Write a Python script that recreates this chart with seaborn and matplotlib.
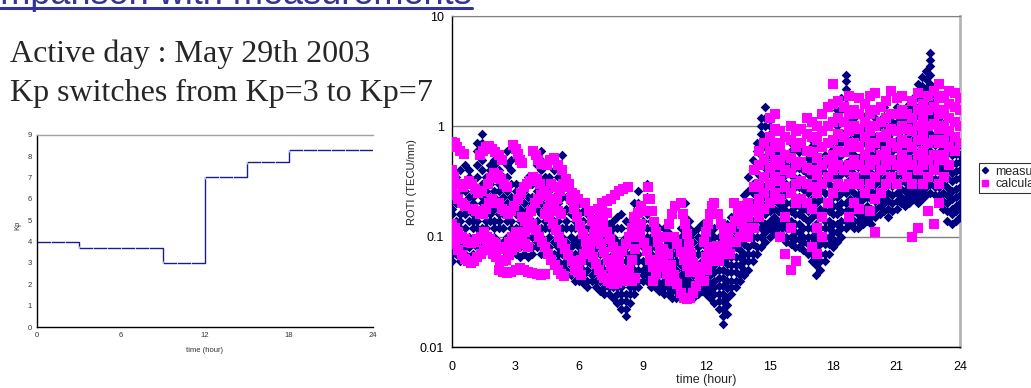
import matplotlib
matplotlib.use("Agg")
import matplotlib.pyplot as plt
import seaborn as sns
import pandas as pd
from matplotlib.lines import Line2D

# ---------------- data ----------------
kp_hours = list(range(25))
kp_values = [4.0, 4.0, 4.0, 3.7, 3.7, 3.7, 3.7, 3.7, 3.7, 3.0, 3.0, 3.0,
             7.0, 7.0, 7.0, 7.7, 7.7, 7.7, 8.3, 8.3, 8.3, 8.3, 8.3, 8.3, 8.3]

# measured ROTI: (time, values observed at that time)
meas_night = [
    (0.0, [.06, .07, .08, .1, .12, .16, .18, .23, .26, .3]),
    (0.2, [.07, .09, .1, .12, .14, .2, .23, .3, .35]),
    (0.4, [.06, .08, .09, .12, .14, .16, .2, .26, .4]),
    (0.6, [.07, .08, .1, .12, .16, .18, .2, .26, .3, .45]),
    (0.8, [.065, .08, .09, .1, .14, .18, .23, .3, .35, .4]),
    (1.0, [.07, .09, .12, .14, .16, .2, .23, .3]),
    (1.2, [.08, .09, .1, .12, .14, .18, .26, .35, .45, .6, .7]),
    (1.4, [.07, .08, .1, .12, .16, .2, .23, .3, .4, .5, .7, .85]),
    (1.6, [.08, .1, .12, .14, .18, .2, .26, .3, .35]),
    (1.8, [.09, .1, .14, .16, .2, .23, .3, .4, .45]),
    (2.0, [.08, .1, .12, .14, .18, .23, .26, .35, .45, .5]),
    (2.2, [.09, .12, .14, .16, .2, .26, .3, .4, .55]),
    (2.4, [.08, .09, .12, .16, .18, .23, .3, .35]),
    (2.6, [.07, .09, .1, .14, .16, .2, .26, .35, .45, .6]),
    (2.8, [.08, .1, .12, .14, .18, .23, .3, .4, .5]),
    (3.0, [.07, .08, .1, .12, .16, .2, .26, .3]),
    (3.2, [.065, .08, .09, .12, .14, .18, .23, .26]),
    (3.4, [.07, .09, .1, .12, .16, .2, .26, .3]),
    (3.6, [.065, .08, .1, .14, .16, .18, .23, .35]),
    (3.8, [.07, .08, .1, .12, .14, .2, .23, .3, .35]),
    (4.0, [.08, .09, .12, .14, .18, .2, .26, .35, .45]),
    (4.2, [.07, .08, .1, .12, .16, .2, .26, .3, .4, .5, .6]),
    (4.4, [.07, .09, .12, .14, .18, .23, .3, .35, .45]),
    (4.6, [.065, .08, .1, .12, .16, .2, .26, .35]),
    (4.8, [.06, .07, .09, .12, .14, .18, .23, .3, .4]),
    (5.0, [.06, .07, .08, .1, .14, .16, .2, .26, .35, .45]),
    (5.2, [.055, .07, .08, .1, .12, .16, .23, .3, .4, .55]),
    (5.4, [.05, .06, .07, .09, .12, .14, .18, .23, .3]),
    (5.6, [.045, .055, .07, .08, .1, .12, .16, .2, .26]),
    (5.8, [.04, .05, .06, .07, .09, .12, .14, .18, .23]),
]
meas_day = [
    (6.0, [.04, .045, .055, .07, .08, .1, .12, .16, .2]),
    (6.2, [.038, .045, .05, .06, .08, .09, .12, .14, .17]),
    (6.4, [.035, .04, .05, .06, .07, .09, .1, .12, .16]),
    (6.6, [.04, .045, .055, .07, .08, .1, .12, .14]),
    (6.8, [.035, .04, .05, .06, .07, .08, .1, .12, .15]),
    (7.0, [.032, .04, .045, .055, .07, .08, .1, .12, .14]),
    (7.2, [.03, .035, .04, .05, .06, .07, .09, .1, .12, .14]),
    (7.4, [.03, .035, .045, .05, .06, .08, .09, .11, .13]),
    (7.6, [.028, .035, .04, .045, .055, .07, .08, .1, .12, .14]),
    (7.8, [.025, .03, .035, .045, .05, .06, .08, .09, .12, .15]),
    (8.0, [.022, .026, .03, .035, .045, .05, .06, .07, .09, .12, .16]),
    (8.2, [.019, .022, .026, .03, .04, .045, .06, .07, .08, .1, .14]),
    (8.4, [.025, .03, .035, .04, .05, .06, .07, .09, .1, .12]),
    (8.6, [.03, .035, .04, .05, .06, .07, .08, .1, .12, .16, .2]),
    (8.8, [.035, .04, .05, .06, .07, .09, .1, .12, .16, .2, .26]),
    (9.0, [.04, .045, .05, .06, .08, .09, .12, .14, .18]),
    (9.2, [.04, .045, .055, .06, .07, .09, .1, .12, .16, .23, .3]),
    (9.4, [.035, .04, .05, .06, .07, .08, .1, .12, .14]),
    (9.6, [.035, .04, .045, .055, .06, .08, .09, .11, .13]),
    (9.8, [.032, .038, .045, .05, .06, .07, .08, .1, .12]),
    (10.0, [.03, .035, .04, .05, .06, .07, .08, .1, .12]),
    (10.2, [.03, .035, .04, .045, .055, .06, .07, .09, .11]),
    (10.4, [.028, .032, .038, .045, .05, .06, .07, .08, .1]),
    (10.6, [.028, .032, .036, .04, .05, .06, .07, .08, .1]),
    (10.8, [.03, .035, .04, .045, .055, .07, .08, .1, .12]),
    (11.0, [.032, .036, .042, .05, .06, .07, .09, .1, .12, .15, .2]),
    (11.2, [.03, .035, .04, .045, .055, .07, .08, .1, .12, .14]),
    (11.4, [.028, .032, .038, .045, .05, .06, .07, .09, .11]),
    (11.6, [.03, .035, .04, .05, .055, .07, .08, .1, .12]),
    (11.8, [.032, .038, .045, .05, .06, .07, .09, .1, .13]),
    (12.0, [.03, .035, .04, .05, .06, .07, .08, .1, .12]),
    (12.2, [.028, .032, .038, .045, .05, .06, .07, .09, .11]),
    (12.4, [.025, .03, .035, .04, .048, .055, .065, .08, .1, .12]),
    (12.6, [.022, .026, .03, .036, .042, .05, .06, .07, .085, .1]),
    (12.8, [.016, .019, .022, .026, .03, .036, .042, .05, .06, .07, .085, .1]),
    (13.0, [.02, .024, .028, .034, .04, .048, .056, .065, .08, .1, .13]),
    (13.2, [.03, .035, .04, .048, .055, .065, .075, .09, .1, .12, .15]),
    (13.4, [.035, .04, .048, .055, .065, .08, .09, .11, .13, .16]),
    (13.6, [.04, .045, .055, .065, .075, .09, .1, .12, .14, .18]),
    (13.8, [.045, .05, .06, .07, .085, .1, .12, .14, .17, .2, .24]),
]
meas_evening = [
    (14.0, [.05, .06, .07, .08, .1, .12, .14, .17, .2, .26, .35]),
    (14.2, [.06, .07, .085, .1, .12, .14, .17, .2, .25, .3, .4, .5]),
    (14.4, [.07, .08, .1, .12, .14, .17, .2, .25, .3, .38, .45, .6, .7]),
    (14.6, [.08, .1, .12, .14, .16, .2, .24, .3, .35, .45, .55, .7, .85, 1.0, 1.2]),
    (14.8, [.09, .11, .13, .16, .19, .23, .28, .35, .42, .5, .65, .8, 1.0, 1.2, 1.5]),
    (15.0, [.1, .12, .14, .17, .2, .25, .3, .38, .45, .55, .7, .85, 1.0]),
    (15.2, [.11, .13, .15, .18, .22, .27, .32, .4, .48, .6, .7]),
    (15.4, [.1, .12, .14, .17, .2, .25, .3, .36, .45, .55, .65]),
    (15.6, [.1, .12, .13, .16, .19, .23, .28, .34, .4, .5, .6]),
    (15.8, [.09, .1, .12, .14, .17, .2, .25, .3, .37, .45, .55]),
    (16.0, [.085, .1, .12, .14, .17, .2, .25, .3, .36, .44, .52, .6, .7]),
    (16.2, [.08, .095, .11, .13, .16, .19, .23, .28, .34, .42, .5]),
    (16.4, [.08, .095, .11, .13, .16, .19, .23, .28, .34, .42, .5, .58, .65]),
    (16.6, [.075, .09, .1, .12, .15, .18, .22, .27, .32, .4, .46]),
    (16.8, [.07, .085, .1, .12, .14, .17, .2, .25, .3, .37, .45, .52, .6]),
    (17.0, [.06, .07, .085, .1, .12, .15, .18, .22, .27, .33, .4, .48, .58, .67, .75]),
    (17.2, [.045, .055, .065, .08, .09, .11, .13, .16, .2, .25, .3, .37, .45, .55, .65]),
    (17.4, [.05, .06, .07, .085, .1, .12, .15, .18, .22, .27, .33, .4, .5]),
    (17.6, [.06, .07, .085, .1, .12, .14, .17, .21, .25, .3, .38, .45, .55]),
    (17.8, [.07, .085, .1, .12, .14, .17, .2, .25, .3, .37, .45]),
    (18.0, [.08, .095, .11, .13, .16, .19, .23, .28, .35, .42, .52, .62, .75]),
    (18.2, [.09, .11, .13, .16, .19, .23, .28, .34, .42, .52, .65, .8, 1.0, 1.2, 1.4]),
    (18.4, [.1, .12, .14, .17, .2, .25, .3, .37, .45, .55, .7, .85, 1.1, 1.4, 1.8]),
    (18.6, [.12, .14, .17, .2, .25, .3, .38, .47, .58, .72, .9, 1.1, 1.4, 1.8, 2.2, 2.6, 2.9]),
    (18.8, [.13, .15, .18, .22, .27, .33, .4, .5, .6, .75, .9, 1.1, 1.3]),
    (19.0, [.12, .14, .17, .21, .25, .3, .37, .45, .55, .68, .85, 1.0, 1.2]),
    (19.2, [.12, .14, .16, .2, .24, .29, .35, .43, .52, .65, .8]),
    (19.4, [.13, .15, .18, .22, .26, .32, .38, .46, .56, .7, .85, 1.0, 1.2]),
    (19.6, [.14, .16, .19, .23, .28, .34, .4, .5, .6, .75, .9, 1.1, 1.3]),
    (19.8, [.13, .15, .18, .22, .26, .32, .38, .46, .56, .7, .85]),
    (20.0, [.15, .18, .21, .25, .3, .36, .44, .54, .65, .8, 1.0, 1.2, 1.4]),
    (20.2, [.16, .19, .22, .27, .32, .38, .46, .56, .68, .82, 1.0]),
    (20.4, [.17, .2, .23, .28, .33, .4, .48, .58, .7, .85, 1.05, 1.25, 1.5]),
    (20.6, [.15, .18, .21, .25, .3, .36, .44, .54, .65, .8, .95]),
    (20.8, [.17, .2, .24, .29, .34, .41, .5, .6, .72, .88, 1.1]),
    (21.0, [.18, .21, .25, .3, .36, .43, .52, .62, .75, .9, 1.1, 1.3, 1.5]),
    (21.2, [.2, .23, .27, .32, .38, .46, .55, .66, .8, .95, 1.15]),
    (21.4, [.19, .22, .26, .31, .37, .44, .53, .64, .78, .92, 1.1]),
    (21.6, [.2, .24, .28, .33, .4, .48, .58, .7, .85, 1.0, 1.2, 1.4, 1.6]),
    (21.8, [.22, .26, .3, .36, .43, .52, .62, .75, .9, 1.1, 1.3, 1.55, 1.8]),
    (22.0, [.2, .24, .28, .33, .4, .48, .58, .7, .85, 1.0, 1.25, 1.5, 1.8, 2.1, 2.4]),
    (22.2, [.22, .26, .3, .36, .43, .52, .62, .75, .9, 1.1, 1.3, 1.6, 1.9, 2.3, 2.8]),
    (22.4, [.24, .28, .33, .4, .47, .56, .68, .82, 1.0, 1.2, 1.5, 1.8, 2.2, 2.7, 3.2]),
    (22.6, [.25, .3, .35, .42, .5, .6, .72, .87, 1.05, 1.3, 1.6, 1.9, 2.4, 2.9, 3.5, 4.0, 4.6]),
    (22.8, [.24, .28, .33, .4, .47, .56, .68, .82, 1.0, 1.2, 1.4, 1.7, 2.0]),
    (23.0, [.2, .24, .28, .33, .4, .48, .58, .7, .85, 1.0, 1.2]),
    (23.2, [.18, .21, .25, .3, .36, .43, .52, .62, .75, .9, 1.05]),
    (23.4, [.14, .17, .2, .24, .28, .34, .4, .48, .58, .7, .8]),
    (23.6, [.13, .16, .18, .22, .26, .32, .38, .46, .55, .65, .75]),
    (23.8, [.14, .17, .19, .23, .27, .33, .39, .47, .56, .63, .7]),
    (24.0, [.15, .18, .2, .24, .28, .34, .4, .48, .55]),
]

# calculated ROTI: tracks of (time, value)
calc_night = [
    (0.0, .72), (0.12, .7), (0.25, .65), (0.4, .6), (0.55, .56), (1.3, .55), (1.45, .6),
    (1.6, .65), (1.75, .66), (1.9, .62), (2.05, .58), (2.2, .55), (2.35, .5), (2.9, .68),
    (3.0, .62), (3.1, .56), (3.2, .5), (3.3, .47), (3.85, .6), (3.95, .55), (4.05, .5),
    (4.2, .46), (4.5, .45), (4.65, .5), (4.8, .52), (5.0, .45), (5.2, .4),
    (0.0, .4), (0.1, .35), (0.2, .3), (0.0, .25), (0.15, .24), (0.3, .22), (0.45, .2),
    (0.6, .19), (0.5, .28), (0.65, .3), (0.8, .32), (0.95, .3), (1.1, .27), (1.25, .25),
    (1.4, .26), (1.0, .18), (1.15, .17), (1.3, .16), (1.45, .16), (1.6, .18), (1.75, .2),
    (1.9, .22), (1.7, .3), (1.85, .34), (2.0, .38), (2.15, .36), (2.3, .33), (2.45, .3),
    (2.6, .28), (2.2, .2), (2.35, .18), (2.5, .17), (2.65, .16), (2.8, .17), (2.95, .19),
    (3.1, .22), (3.25, .25), (3.4, .28), (3.55, .3), (3.7, .32), (3.85, .35), (4.0, .33),
    (4.15, .3), (3.3, .15), (3.45, .14), (3.6, .15), (3.75, .17), (3.9, .2), (4.05, .22),
    (4.2, .24), (4.35, .26), (4.5, .24), (4.65, .22), (4.8, .2), (4.95, .22), (5.1, .26),
    (5.25, .3), (5.4, .33), (5.55, .3), (4.4, .16), (4.55, .18), (4.7, .3), (4.85, .28),
    (5.0, .17), (5.15, .16), (5.5, .28), (5.65, .25), (5.8, .24), (5.95, .22),
    (0.0, .1), (0.15, .085), (0.3, .075), (0.45, .068), (0.6, .063), (0.75, .06),
    (0.9, .058), (1.05, .06), (1.2, .065), (1.35, .07), (1.5, .075), (1.65, .08),
    (1.8, .075), (1.95, .07), (2.1, .065), (2.25, .062), (2.4, .06), (2.55, .062),
    (2.7, .068), (2.85, .075), (3.0, .08), (3.15, .085), (3.3, .09), (3.45, .085), (3.6, .08),
    (0.0, .13), (0.15, .12), (0.3, .11), (0.45, .1), (0.6, .095), (0.75, .09), (0.9, .088),
    (1.05, .09), (1.2, .095), (1.35, .1), (1.5, .11), (1.65, .1), (1.8, .095), (1.95, .09),
    (2.1, .085), (2.25, .08), (2.4, .078), (2.55, .08), (2.7, .09), (2.85, .1), (3.0, .11),
    (3.15, .105), (3.3, .1), (3.45, .11), (3.6, .12),
    (2.2, .05), (2.4, .048), (2.6, .047), (2.8, .048), (3.0, .05), (3.2, .052), (3.4, .05),
    (3.6, .048), (3.8, .047), (4.0, .046), (4.2, .045), (4.4, .046),
    (3.8, .13), (3.95, .115), (4.1, .1), (4.25, .09), (4.4, .08), (4.55, .07), (4.7, .062),
    (4.85, .055), (5.0, .05), (5.15, .046), (5.3, .044),
    (4.6, .15), (4.75, .13), (4.9, .115), (5.05, .1), (5.2, .088), (5.35, .078), (5.5, .068),
    (5.65, .06), (5.8, .053), (5.95, .048),
]
calc_day = [
    (6.1, .045), (5.6, .22), (5.75, .18), (5.9, .15), (6.05, .125), (6.2, .105), (6.35, .09),
    (6.5, .077), (6.65, .066), (6.8, .057), (6.95, .05), (7.1, .045),
    (5.8, .05), (5.95, .055), (6.1, .062), (6.25, .07), (6.4, .08), (6.55, .092), (6.7, .105),
    (6.85, .12), (7.0, .135), (7.15, .15), (7.3, .165),
    (6.3, .2), (6.45, .17), (6.6, .14), (6.75, .12), (6.9, .1), (7.05, .085), (7.2, .072),
    (7.35, .062), (7.5, .054), (7.65, .048), (7.8, .044),
    (7.0, .15), (7.15, .13), (7.3, .11), (7.45, .095), (7.6, .08), (7.75, .068), (7.9, .058),
    (8.05, .05), (8.2, .045), (8.35, .042),
    (7.2, .042), (7.35, .04), (7.5, .038), (7.65, .037), (7.8, .038), (8.5, .04), (8.65, .042),
    (6.9, .18), (7.1, .2), (7.3, .21), (7.5, .22), (7.7, .24), (7.9, .26), (8.1, .27), (8.3, .28),
    (7.6, .05), (7.75, .056), (7.9, .064), (8.05, .074), (8.2, .086), (8.35, .1), (8.5, .12),
    (8.65, .14), (8.8, .165), (8.95, .19),
    (8.2, .04), (8.35, .05), (8.5, .062), (8.65, .078), (8.8, .1), (8.95, .13), (9.1, .17), (9.25, .22),
    (8.6, .15), (8.75, .125), (8.9, .105), (9.05, .088), (9.2, .074), (9.35, .062), (9.5, .053),
    (9.65, .046),
    (9.25, .28), (9.35, .22), (9.45, .17), (9.55, .135), (9.65, .11), (9.75, .09), (9.85, .075),
    (9.95, .063), (10.05, .053), (10.15, .046), (10.3, .04),
    (9.5, .04), (9.65, .05), (9.8, .062), (9.95, .078), (10.1, .1), (10.25, .13), (10.4, .16), (10.55, .19),
    (10.2, .07), (10.35, .055), (10.5, .045), (10.65, .037), (10.8, .031), (10.95, .028),
    (11.1, .027), (11.25, .028), (11.4, .031), (11.55, .036), (11.7, .043), (11.85, .053),
    (12.0, .065), (12.15, .08),
    (10.5, .1), (10.65, .085), (10.8, .072), (10.95, .062), (11.1, .054), (11.25, .048),
    (10.8, .2), (10.9, .16), (11.0, .13), (11.1, .105), (11.2, .085), (11.3, .07), (11.4, .058), (11.5, .05),
    (11.9, .09), (12.0, .11), (12.1, .13), (12.2, .16), (12.3, .19),
    (11.9, .04), (12.05, .05), (12.2, .06), (12.35, .07), (12.5, .082),
    (12.4, .2), (12.55, .16), (12.7, .13), (12.85, .105), (13.0, .085), (13.15, .07),
    (12.6, .06), (12.75, .07), (12.9, .085), (13.05, .1), (13.2, .12), (13.35, .14), (13.5, .16), (13.65, .18),
    (13.4, .09), (13.6, .1), (13.8, .11), (14.0, .12), (13.7, .13), (13.9, .15), (14.1, .17),
    (13.3, .2), (13.5, .19),
]
calc_evening = [
    (14.0, [.1, .15, .2]), (14.25, [.12, .18, .28, .4]), (14.5, [.15, .22, .3, .45, .6]),
    (14.75, [.18, .25, .35, .5, .7]), (15.0, [.2, .3, .42, .6, .8, 1.2]),
    (15.25, [.25, .35, .5, .7, .95, 1.3]), (15.5, [.1, .22, .32, .45, .65, .9]),
    (15.75, [.07, .15, .28, .4, .55, .8]), (16.0, [.05, .12, .25, .38, .52, .75, 1.0]),
    (16.25, [.06, .2, .3, .45, .65, .9]), (16.5, [.22, .32, .48, .7, .95]),
    (16.75, [.2, .3, .42, .6, .85, 1.2]), (17.0, [.08, .18, .28, .4, .58, .8, 1.1]),
    (17.25, [.07, .12, .25, .36, .52, .75, 1.0]), (17.5, [.1, .15, .3, .45, .65, .9, 1.3]),
    (17.75, [.2, .35, .5, .7, 1.0, 1.5]), (18.0, [.25, .4, .55, .75, 1.1, 1.6, 2.4]),
    (18.25, [.3, .45, .6, .85, 1.2, 1.7]), (18.5, [.28, .4, .58, .8, 1.1, 1.5]),
    (18.75, [.15, .3, .45, .65, .9, 1.3, 1.9]), (19.0, [.2, .35, .5, .7, 1.0, 1.4]),
    (19.25, [.18, .3, .45, .65, .95, 1.3, 1.8]), (19.5, [.25, .4, .55, .8, 1.1, 1.6]),
    (19.75, [.17, .3, .45, .65, .9, 1.3, 1.9]), (20.0, [.11, .22, .35, .5, .7, 1.0, 1.4, 2.0]),
    (20.25, [.25, .4, .55, .8, 1.1, 1.5]), (20.5, [.3, .45, .6, .85, 1.2, 1.7]),
    (20.75, [.35, .5, .7, .95, 1.3, 2.1]), (21.0, [.3, .45, .65, .9, 1.3, 1.8]),
    (21.25, [.4, .55, .75, 1.0, 1.4, 1.9]), (21.5, [.35, .5, .7, .95, 1.3]),
    (21.75, [.1, .3, .45, .65, .9, 1.2, 1.7]), (22.0, [.12, .4, .55, .75, 1.0, 1.4, 2.0]),
    (22.25, [.3, .45, .6, .85, 1.2, 1.6]), (22.5, [.17, .35, .5, .7, 1.0, 1.4, 1.9]),
    (22.75, [.13, .4, .55, .75, 1.05, 1.5, 2.1]), (23.0, [.2, .3, .5, .7, .95, 1.3, 1.8, 2.4]),
    (23.25, [.35, .55, .75, 1.0, 1.4, 1.9]), (23.5, [.45, .65, .9, 1.2, 1.6, 2.1]),
    (23.75, [.6, .8, 1.1, 1.5, 2.0]), (24.0, [.7, 1.0, 1.4, 1.8]),
]

# --------------- tables ---------------
def expand(cols):
    return [(t, v) for t, vals in cols for v in vals]

meas = pd.DataFrame(expand(meas_night + meas_day + meas_evening), columns=["t", "roti"])
calc = pd.DataFrame(calc_night + calc_day + expand(calc_evening), columns=["t", "roti"])
kp = pd.DataFrame({"hour": kp_hours, "kp": kp_values})

NAVY = "#000080"
MAGENTA = "#ff00ff"
BLUE = "#333399"

sns.set_style("white")
plt.rcParams["font.family"] = ["Liberation Sans", "DejaVu Sans"]

W, H = 1031, 388
fig = plt.figure(figsize=(W / 100, H / 100), dpi=100)

def fx(px):
    return px / W

def fy(py):
    return 1 - py / H

# ---- slide title (clipped at top) and underline ----
fig.text(fx(-46), fy(4), "Comparison with measurements", fontsize=26, color=BLUE,
         ha="left", va="baseline")
fig.add_artist(Line2D([0, fx(472)], [fy(8), fy(8)], color=BLUE, lw=2.2,
                      transform=fig.transFigure))

# ---- descriptive text ----
fig.text(fx(10), fy(62), "Active day : May 29th 2003", fontsize=23,
         family=["Liberation Serif", "DejaVu Serif"], ha="left", va="baseline")
fig.text(fx(10), fy(101), "Kp switches from Kp=3 to Kp=7", fontsize=23,
         family=["Liberation Serif", "DejaVu Serif"], ha="left", va="baseline")

# ---- Kp chart ----
axL = fig.add_axes([fx(37), fy(327), fx(373) - fx(37), fy(134.7) - fy(327)])
sns.lineplot(data=kp, x="hour", y="kp", ax=axL, drawstyle="steps-post", color="#1c1c8c",
             lw=1.0, marker="|", markersize=2.5, markeredgewidth=0.5)
axL.set_xlim(0, 24)
axL.set_ylim(0, 9)
axL.set_xticks(range(0, 25, 6))
axL.set_yticks(range(0, 10))
axL.tick_params(axis="both", direction="out", length=2, width=0.6, labelsize=5.5,
                pad=1.5, colors="black")
axL.tick_params(axis="both", labelcolor="#333333")
for s in ("left", "bottom"):
    axL.spines[s].set_color("black")
    axL.spines[s].set_linewidth(1.0)
axL.spines["top"].set_color("#a0a0a0")
axL.spines["top"].set_linewidth(1.0)
axL.spines["right"].set_visible(False)
axL.set_xlabel("")
axL.set_ylabel("")
fig.text(fx(205), fy(350), "time (hour)", fontsize=5.5, ha="center", va="center", color="#333333")
fig.text(fx(18), fy(225), "Kp", fontsize=5.5, ha="center", va="center", rotation=90, color="#333333")

# ---- ROTI chart ----
axR = fig.add_axes([fx(452), fy(347), fx(960) - fx(452), fy(16) - fy(347)])
axR.set_yscale("log")
sns.scatterplot(data=meas, x="t", y="roti", ax=axR, marker="D", s=24, color=NAVY,
                linewidth=0, zorder=3)
sns.scatterplot(data=calc, x="t", y="roti", ax=axR, marker="s", s=54, color=MAGENTA,
                linewidth=0, zorder=4)
axR.set_xlim(0, 24)
axR.set_ylim(0.01, 10)
axR.set_xticks(range(0, 25, 3))
axR.set_yticks([0.01, 0.1, 1, 10])
axR.set_yticklabels(["0.01", "0.1", "1", "10"])
axR.minorticks_off()
axR.yaxis.grid(True, color="#808080", lw=1.0, zorder=1)
axR.xaxis.grid(False)
axR.set_axisbelow(True)
axR.tick_params(axis="both", direction="out", length=4, width=1, labelsize=9,
                pad=2, colors="black")
axR.tick_params(axis="x", pad=6)
for s in ("left", "bottom"):
    axR.spines[s].set_color("black")
    axR.spines[s].set_linewidth(1.0)
axR.spines["top"].set_color("#808080")
axR.spines["right"].set_color("#b4b4b4")
axR.spines["right"].set_linewidth(2.0)
axR.set_xlabel("")
axR.set_ylabel("")
fig.text(fx(412), fy(182), "ROTI (TECU/mn)", fontsize=8, ha="center", va="center", rotation=90)
fig.text(fx(706), fy(380), "time (hour)", fontsize=9, ha="center", va="center")

handles = [
    Line2D([], [], ls="none", marker="D", color=NAVY, markersize=3.2),
    Line2D([], [], ls="none", marker="s", color=MAGENTA, markersize=4.2),
]
leg = fig.legend(handles, ["measured", "calculated"], loc="upper left",
                 bbox_to_anchor=(fx(979), fy(163)), fontsize=9, frameon=True,
                 fancybox=False, edgecolor="black", handlelength=0.6, handletextpad=0.5,
                 borderpad=0.2, labelspacing=0.05, borderaxespad=0)
leg.get_frame().set_linewidth(0.8)

fig.savefig("out.png", dpi=100)
